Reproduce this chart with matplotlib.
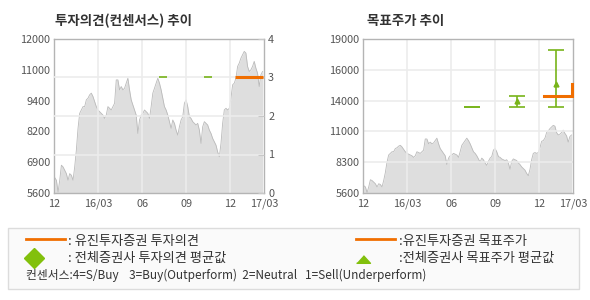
import numpy as np
import matplotlib
matplotlib.use('Agg')
import matplotlib.pyplot as plt
from matplotlib.lines import Line2D
from matplotlib.patches import Rectangle

plt.rcParams['font.family'] = ['Noto Sans CJK KR', 'DejaVu Sans']

W, H = 590, 300

# share price (Dec 2015 -> Mar 2017)
price = [6240, 6130, 5640, 6130, 6755, 6685, 6545, 6405, 6130, 6405,
         6340, 6130, 6685, 7380, 8285, 8910, 9050, 9190, 9190, 9470,
         9540, 9680, 9750, 9610, 9400, 9190, 9050, 8980, 8910, 8840,
         8700, 8840, 9190, 9120, 9050, 9190, 9330, 10300, 10300, 9885,
         10025, 9885, 9955, 10165, 10370, 9885, 9470, 9260, 9050, 8840,
         8075, 8635, 8840, 8910, 9050, 8980, 8910, 8700, 9190, 9750,
         9955, 10165, 10370, 10165, 9885, 9540, 9190, 9050, 8840, 8565,
         8285, 8635, 8495, 8215, 8005, 8355, 8635, 8770, 9330, 9470,
         9190, 8770, 8700, 8565, 8495, 8425, 8495, 8215, 7660, 8355,
         8565, 8495, 8425, 8215, 8075, 7870, 7730, 7590, 7310, 7105,
         7660, 8495, 9050, 9120, 9050, 9120, 9540, 10095, 10165, 10370,
         10860, 11000, 11205, 11345, 11485, 11415, 10860, 10650, 10720, 10860,
         11070, 10790, 10580, 10025, 10510, 10650]
months = np.linspace(0.05, 14.2, len(price))  # months since Dec 2015

month_ticks = [0, 3, 6, 9, 12, 14.3]
month_labels = ['12', '16/03', '06', '09', '12', '17/03']

op_price_labels = ['5600', '6900', '8200', '9400', '11000', '12000']
tp_price_labels = ['5600', '8300', '11000', '14000', '16000', '19000']

# consensus dates (months) and values
cons_x = [7.43, 10.49, 13.14]
cons_opinion = [3, 3, 3]
avg_tp = [13060, 13640, 15100]
high_tp = [13060, 14080, 18010]
low_tp = [13060, 13060, 13060]

# Eugene Investment opinion / target price
eugene_op_x = [12.35, 14.2]
eugene_op = [3, 3]
eugene_tp_x = [12.33, 14.23, 14.23]
eugene_tp = [14050, 14050, 15070]

ORANGE = '#f06e00'
GREEN = '#78b41a'
GRID = '#ececec'
TICK = '#555555'


def fx(x):
    return x / W


def fy(y):
    return 1 - y / H


def price_axes(rect, lo, hi, labels):
    ax = fig.add_axes(rect)
    ax.fill_between(months, price, lo, color='#dedede', lw=0, zorder=1)
    ax.plot(months, price, color='#bababa', lw=0.6, zorder=1.5)
    ax.set_xlim(0, 14.3)
    ax.set_ylim(lo, hi)
    ax.set_yticks(np.linspace(lo, hi, 6))
    ax.set_yticklabels(labels)
    ax.set_xticks(month_ticks)
    ax.set_xticklabels(month_labels)
    for x in month_ticks[1:-1]:
        ax.axvline(x, color=GRID, lw=1.2, zorder=2)
    ax.tick_params(length=0, labelsize=7.8, colors=TICK)
    ax.tick_params(axis='y', pad=2.5)
    ax.tick_params(axis='x', pad=4)
    for s in ax.spines.values():
        s.set_color('#b4b4b4')
        s.set_linewidth(1)
    return ax


fig = plt.figure(figsize=(W / 100, H / 100), dpi=100)

# left: investment opinion
ax1 = price_axes([fx(54), fy(193), 210 / W, 154 / H], 5600, 12000, op_price_labels)
tw = ax1.twinx()
tw.set_ylim(0, 4)
tw.set_yticks([0, 1, 2, 3, 4])
for lvl in [1, 2, 3]:
    tw.axhline(lvl, color=GRID, lw=1.2, zorder=0.5)
tw.hlines(cons_opinion, [x - 0.29 for x in cons_x], [x + 0.29 for x in cons_x],
          color=GREEN, lw=1.2, zorder=2)
tw.plot(eugene_op_x, eugene_op, color=ORANGE, lw=2.2, zorder=3, solid_capstyle='butt')
tw.tick_params(axis='y', direction='in', length=4, color='#c8c8c8',
               labelsize=7.8, labelcolor=TICK, pad=3)
for s in tw.spines.values():
    s.set_visible(False)

# right: target price
ax2 = price_axes([fx(363), fy(193), 210 / W, 154 / H], 5600, 19000, tp_price_labels)
for v in np.linspace(5600, 19000, 6)[1:-1]:
    ax2.axhline(v, color=GRID, lw=1.2, zorder=2)
ax2.errorbar(cons_x, avg_tp,
             yerr=[np.subtract(avg_tp, low_tp), np.subtract(high_tp, avg_tp)],
             fmt='none', ecolor=GREEN, elinewidth=1.2, capsize=5.8, capthick=1.2, zorder=3)
spread = [h > l for h, l in zip(high_tp, low_tp)]
ax2.plot([x for x, s in zip(cons_x, spread) if s], [a for a, s in zip(avg_tp, spread) if s],
         ls='none', marker='^', ms=3.5, color=GREEN, zorder=4)
ax2.plot(eugene_tp_x, eugene_tp, color=ORANGE, lw=2.2, zorder=4,
         solid_joinstyle='miter', clip_on=False)

# titles
fig.text(fx(55), fy(21), '투자의견(컨센서스) 추이', fontsize=9.7, fontweight='bold',
         color='#333333', va='center', ha='left')
fig.text(fx(367), fy(21), '목표주가 추이', fontsize=9.7, fontweight='bold',
         color='#333333', va='center', ha='left')

# legend box
fig.add_artist(Rectangle((fx(8), fy(289)), 571 / W, 61 / H, transform=fig.transFigure,
                         facecolor='#fafafa', edgecolor='#dcdcdc', lw=1))
fig.add_artist(Line2D([fx(26), fx(65)], [fy(239)] * 2, color=ORANGE, lw=2))
fig.add_artist(Line2D([fx(356), fx(395)], [fy(239)] * 2, color=ORANGE, lw=2))
fig.add_artist(Line2D([fx(34)], [fy(258)], marker='D', ms=10, color='#82c00c', ls='none'))
fig.add_artist(Line2D([fx(363)], [fy(259)], marker=[(-1, -0.55), (1, -0.55), (0, 0.55)],
                      ms=10, color='#82c00c', ls='none'))

leg_kw = dict(fontsize=9.5, color='#333333', va='center', ha='left')
fig.text(fx(68), fy(241), ': 유진투자증권 투자의견', **leg_kw)
fig.text(fx(68), fy(258), ': 전체증권사 투자의견 평균값', **leg_kw)
fig.text(fx(399), fy(241), ':유진투자증권 목표주가', **leg_kw)
fig.text(fx(399), fy(258), ':전체증권사 목표주가 평균값', **leg_kw)
fig.text(fx(26), fy(275), '컨센서스:4=S/Buy    3=Buy(Outperform)  2=Neutral   1=Sell(Underperform)',
         fontsize=8.5, color='#333333', va='center', ha='left')

fig.savefig('out.png', dpi=100)
